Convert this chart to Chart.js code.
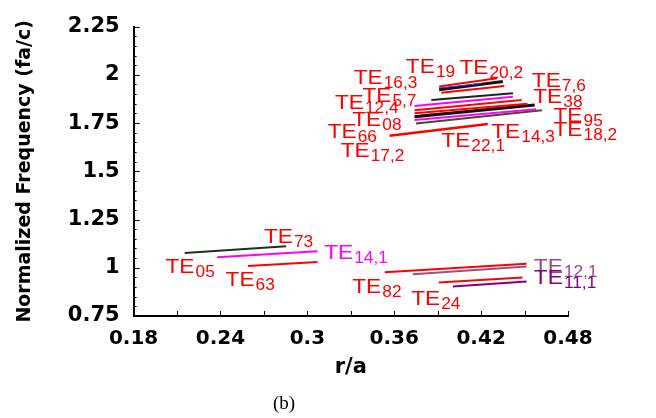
<!DOCTYPE html>
<html>
<head>
<meta charset="utf-8">
<script src="https://cdn.jsdelivr.net/npm/chart.js@4.4.1/dist/chart.umd.min.js"></script>
<style>
  html, body { margin: 0; padding: 0; background: #fff; }
  #wrap { width: 656px; height: 418px; }
</style>
</head>
<body>
<div id="wrap"><canvas id="bandChart"></canvas></div>
<script>
// tick values
const xMajor = [0.18, 0.24, 0.30, 0.36, 0.42, 0.48];
const xMinorPerMajor = 2;
const yMajor = [0.75, 1.00, 1.25, 1.50, 1.75, 2.00, 2.25];
const yMinorPerMajor = 5;

// band segments: start (r/a, f) -> end (r/a, f)
const segX0 = [0.391, 0.391, 0.391, 0.3925, 0.3856, 0.374, 0.374, 0.374, 0.374, 0.378, 0.374, 0.375, 0.3567,
               0.2153, 0.2377, 0.259,
               0.3534, 0.3729, 0.3908, 0.4005];
const segY0 = [1.940, 1.932, 1.923, 1.907, 1.869, 1.839, 1.817, 1.8015, 1.7825, 1.790, 1.7655, 1.748, 1.6845,
               1.077, 1.054, 1.009,
               0.977, 0.9665, 0.9237, 0.903];
const segX1 = [0.431, 0.420, 0.435, 0.436, 0.442, 0.442, 0.448, 0.452, 0.457, 0.452, 0.458, 0.462, 0.4246,
               0.2853, 0.307, 0.307,
               0.4514, 0.4514, 0.4486, 0.4514];
const segY1 = [1.982, 1.955, 1.966, 1.942, 1.905, 1.886, 1.869, 1.8505, 1.844, 1.842, 1.822, 1.817, 1.745,
               1.111, 1.085, 1.030,
               1.021, 1.006, 0.9495, 0.929];
const segColor = ['#ff0000', '#2040ff', '#111111', '#ff0000', '#222222', '#ff00ff', '#ff0000', '#ff0000', '#111111', '#a05080', '#ff00ff', '#4a4a2a', '#ff0000',
                  '#1a331a', '#ff00ff', '#ff0000',
                  '#ff0000', '#a05080', '#ff0000', '#800080'];
const segWidth = [2, 1, 3, 2, 2, 2, 2, 2, 3, 1.5, 2, 2, 2.5,
                  2, 2, 2,
                  2, 2, 2, 2];

// mode labels: TE + subscript, anchored at left edge / cap middle of "TE"
const modeSub = ['19', '20,2', '16,3', '7,6', '5,7', '38', '12,4', '08', '95', '66', '18,2', '17,2', '22,1', '14,3',
                 '73', '05', '63', '14,1', '82', '24', '12,1', '11,1'];
const modeX = [0.368, 0.405, 0.332, 0.455, 0.338, 0.456, 0.319, 0.331, 0.470, 0.314, 0.470, 0.323, 0.3925, 0.427,
               0.270, 0.202, 0.2435, 0.3116, 0.331, 0.3717, 0.4564, 0.4564];
const modeY = [2.050, 2.045, 1.992, 1.974, 1.898, 1.891, 1.861, 1.776, 1.795, 1.710, 1.722, 1.612, 1.663, 1.710,
               1.165, 1.010, 0.942, 1.086, 0.907, 0.848, 1.010, 0.956];
const modeColor = modeSub.map(s => s === '14,1' ? '#ff00ff' : s === '12,1' ? '#9a4a88' : s === '11,1' ? '#800080' : '#ff0000');

function buildTicks(major, perMajor) {
    let out = [];
    for (let i = 0; i < major.length; i++) {
        out.push({ value: major[i], major: true });
        if (i < major.length - 1) {
            let step = (major[i + 1] - major[i]) / perMajor;
            for (let k = 1; k < perMajor; k++) out.push({ value: +(major[i] + k * step).toFixed(4), major: false });
        }
    }
    return out;
}

const fmt = v => (+v.toFixed(2)).toString();

const axisFont = '"DejaVu Sans", Verdana, sans-serif';
const labelFont = '"Liberation Sans", Arial, sans-serif';

const inwardTicks = {
    id: 'inwardTicks',
    afterDraw(chart) {
        const { ctx, scales: { x, y }, chartArea: a } = chart;
        ctx.save();
        ctx.strokeStyle = '#000';
        ctx.lineWidth = 1;
        x.ticks.forEach(t => {
            const px = Math.round(x.getPixelForValue(t.value)) + 0.5;
            ctx.beginPath();
            ctx.moveTo(px, a.bottom);
            ctx.lineTo(px, a.bottom - 5);
            ctx.stroke();
        });
        y.ticks.forEach(t => {
            const py = Math.round(y.getPixelForValue(t.value)) + 0.5;
            ctx.beginPath();
            ctx.moveTo(a.left, py);
            ctx.lineTo(a.left + (t.major ? 6 : 3), py);
            ctx.stroke();
        });
        ctx.restore();
    }
};

const modeLabels = {
    id: 'modeLabels',
    afterDatasetsDraw(chart) {
        const { ctx, scales: { x, y } } = chart;
        modeSub.forEach((sub, i) => {
            const px = x.getPixelForValue(modeX[i]);
            const py = y.getPixelForValue(modeY[i]);
            ctx.save();
            ctx.fillStyle = modeColor[i];
            ctx.textBaseline = 'alphabetic';
            ctx.translate(px, py + 7.5);
            ctx.scale(1.08, 1);
            ctx.font = '21px ' + labelFont;
            ctx.fillText('TE', 0, 0);
            const w = ctx.measureText('TE').width;
            ctx.translate(w + 1, 4);
            ctx.font = '16px ' + labelFont;
            ctx.fillText(sub, 0, 0);
            ctx.restore();
        });
    }
};

const datasets = segX0.map((_, i) => ({
    data: [{ x: segX0[i], y: segY0[i] }, { x: segX1[i], y: segY1[i] }],
    borderColor: segColor[i],
    borderWidth: segWidth[i],
    pointRadius: 0,
    fill: false,
    tension: 0
}));

const ctx = document.getElementById('bandChart').getContext('2d');
new Chart(ctx, {
    type: 'line',
    data: { datasets },
    options: {
        responsive: true,
        maintainAspectRatio: false,
        animation: false,
        layout: { padding: { top: 10, right: 88, left: 0, bottom: 0 } },
        plugins: {
            legend: { display: false },
            tooltip: { enabled: false },
            title: {
                display: true,
                position: 'bottom',
                text: '(b)',
                color: '#000',
                font: { family: '"Liberation Serif", "Times New Roman", serif', size: 19, weight: 'normal' },
                padding: { top: 0, bottom: 3 }
            }
        },
        scales: {
            x: {
                type: 'linear',
                min: 0.18,
                max: 0.48,
                afterBuildTicks: s => { s.ticks = buildTicks(xMajor, xMinorPerMajor); },
                grid: { display: false, drawTicks: false },
                border: { display: true, color: '#000', width: 2 },
                ticks: {
                    autoSkip: false,
                    maxRotation: 0,
                    padding: 11,
                    color: '#000',
                    font: { family: axisFont, size: 20, weight: 'bold' },
                    callback: (v, i, t) => t[i].major ? fmt(v) : ''
                },
                title: {
                    display: true,
                    text: 'r/a',
                    color: '#000',
                    font: { family: axisFont, size: 21, weight: 'bold' },
                    padding: { top: -7, bottom: 12 }
                }
            },
            y: {
                type: 'linear',
                min: 0.75,
                max: 2.25,
                afterBuildTicks: s => { s.ticks = buildTicks(yMajor, yMinorPerMajor); },
                grid: { display: false, drawTicks: false },
                border: { display: true, color: '#000', width: 2 },
                ticks: {
                    autoSkip: false,
                    padding: 14,
                    color: '#000',
                    font: { family: axisFont, size: 21, weight: 'bold' },
                    callback: (v, i, t) => t[i].major ? fmt(v) : ''
                },
                title: {
                    display: true,
                    text: 'Normalized Frequency (fa/c)',
                    color: '#000',
                    font: { family: axisFont, size: 19, weight: 'bold' },
                    padding: { top: 14, bottom: 17 }
                }
            }
        }
    },
    plugins: [inwardTicks, modeLabels]
});
</script>
</body>
</html>
